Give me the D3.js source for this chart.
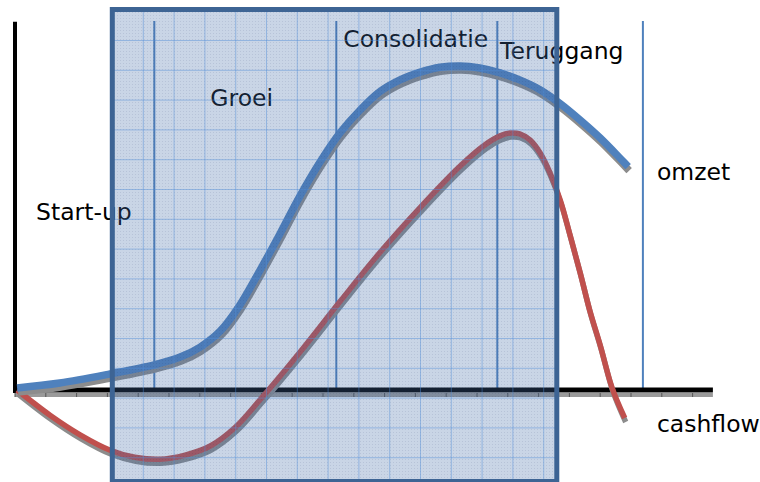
<!DOCTYPE html>
<html><head><meta charset="utf-8">
<script src="https://cdn.jsdelivr.net/npm/d3@7"></script>
<style>html,body{margin:0;padding:0;background:#fff;}svg{display:block;}</style>
</head><body>
<script>
// ---- data (time units on x, value units on y) ----
const omzetX = [0.3, 6.4, 13.6, 19.9, 23.6, 26.4, 29.3, 32.1, 35.0, 37.9, 40.7, 43.6, 46.4, 49.3, 52.1, 55.0, 57.9, 60.7, 63.6, 66.4, 69.3, 72.1, 75.0, 77.9, 80.7, 83.6, 87.6];
const omzetY = [0.3, 1.0, 2.3, 3.6, 4.7, 6.1, 8.4, 12.1, 17.1, 22.4, 27.7, 32.6, 36.7, 40.0, 42.6, 44.3, 45.4, 46.1, 46.3, 46.0, 45.3, 44.3, 42.9, 40.9, 38.6, 36.0, 31.9];
const cashX = [0.3, 5.0, 9.3, 13.6, 17.1, 20.7, 24.3, 27.9, 31.4, 35.0, 40.7, 46.4, 52.1, 57.9, 63.6, 67.1, 69.3, 70.7, 72.1, 73.6, 75.0, 76.4, 77.9, 79.3, 80.7, 82.1, 83.6, 85.3, 87.1];
const cashY = [0, -3.6, -6.4, -8.6, -9.6, -9.9, -9.3, -8.0, -5.4, -1.4, 5.4, 12.6, 19.6, 26.1, 32.0, 35.0, 36.3, 36.7, 36.6, 35.7, 33.9, 31.1, 27.1, 22.1, 16.9, 11.4, 6.4, 0.3, -4.0];
const phaseBounds = [19.9, 45.9, 68.9, 89.7];   // vertical phase lines
const phaseBox = [13.9, 77.4];                   // highlighted range
const phaseLabels = ["Start-up", "Groei", "Consolidatie", "Teruggang"];
const phaseLabelPos = [[3, 24.3], [27.9, 40.6], [46.9, 49.0], [69.3, 47.3]];
const seriesLabels = ["omzet", "cashflow"];
const seriesLabelPos = [[91.7, 30.0], [91.7, -6]];

const W = 760, H = 482;
const x = d3.scaleLinear().domain([0, 100]).range([15, 715]);
const y = d3.scaleLinear().domain([0, 50]).range([390, 40]);

const svg = d3.select("body").append("svg").attr("width", W).attr("height", H);
const defs = svg.append("defs");
const pat = defs.append("pattern").attr("id", "dots").attr("width", 3).attr("height", 3)
  .attr("patternUnits", "userSpaceOnUse");
pat.append("rect").attr("width", 1).attr("height", 1).attr("fill", "rgba(20,40,90,0.10)");

const font = "'DejaVu Sans', Verdana, sans-serif";
const fs = 23.5;

// phase labels & series labels (under the overlay)
phaseLabels.forEach((t, i) => {
  svg.append("text").attr("x", x(phaseLabelPos[i][0])).attr("y", y(phaseLabelPos[i][1]))
    .attr("font-family", font).attr("font-size", fs).attr("fill", "#000").text(t);
});
seriesLabels.forEach((t, i) => {
  svg.append("text").attr("x", x(seriesLabelPos[i][0])).attr("y", y(seriesLabelPos[i][1]))
    .attr("font-family", font).attr("font-size", fs).attr("fill", "#000").text(t);
});

// phase lines
svg.selectAll("line.phase").data(phaseBounds).join("line").attr("class", "phase")
  .attr("x1", d => x(d)).attr("x2", d => x(d))
  .attr("y1", y(52.7)).attr("y2", y(0))
  .attr("stroke", "#4f81bd").attr("stroke-width", 2);

// axes
svg.append("line").attr("x1", x(0)).attr("x2", x(99.7)).attr("y1", y(0) + 5).attr("y2", y(0) + 5)
  .attr("stroke", "#9a9a9a").attr("stroke-width", 4);
const tickXs = d3.range(0, 100, 4.4);
svg.selectAll("line.tk").data(tickXs).join("line").attr("class", "tk")
  .attr("x1", d => x(d)).attr("x2", d => x(d)).attr("y1", y(0) + 3).attr("y2", y(0) + 7)
  .attr("stroke", "#555").attr("stroke-width", 1);
svg.append("line").attr("x1", x(0)).attr("x2", x(0)).attr("y1", y(52.6)).attr("y2", y(0) + 3)
  .attr("stroke", "#000").attr("stroke-width", 4);
svg.append("line").attr("x1", x(0) - 2).attr("x2", x(99.7)).attr("y1", y(0)).attr("y2", y(0))
  .attr("stroke", "#000").attr("stroke-width", 5);

const line = d3.line().x(d => x(d[0])).y(d => y(d[1])).curve(d3.curveCatmullRom.alpha(0.5));
const omzet = omzetX.map((v, i) => [v, omzetY[i]]);
const cash = cashX.map((v, i) => [v, cashY[i]]);

function drawCurve(data, color, w) {
  svg.append("path").attr("d", line(data)).attr("fill", "none")
    .attr("stroke", "#8c8c8c").attr("stroke-width", w).attr("transform", "translate(1,4)");
  svg.append("path").attr("d", line(data)).attr("fill", "none")
    .attr("stroke", color).attr("stroke-width", w);
}
drawCurve(cash, "#c0504d", 5.5);
drawCurve(omzet, "#4f81bd", 7.5);

// highlighted overlay box
const bx0 = x(phaseBox[0]), bx1 = x(phaseBox[1]);
const by0 = 9.5, by1 = 481.5;
const g = svg.append("g");
g.append("rect").attr("x", bx0).attr("y", by0).attr("width", bx1 - bx0).attr("height", by1 - by0)
  .attr("fill", "rgba(70,110,170,0.29)");
g.append("rect").attr("x", bx0).attr("y", by0).attr("width", bx1 - bx0).attr("height", by1 - by0)
  .attr("fill", "url(#dots)");
const gx = d3.range(bx0 + 31, bx1, 30.8);
const gy = d3.range(by0 + 31, by1, 29.8);
g.selectAll("line.gv").data(gx).join("line").attr("class", "gv")
  .attr("x1", d => d).attr("x2", d => d).attr("y1", by0).attr("y2", by1)
  .attr("stroke", "rgba(80,140,215,0.45)").attr("stroke-width", 1);
g.selectAll("line.gh").data(gy).join("line").attr("class", "gh")
  .attr("x1", bx0).attr("x2", bx1).attr("y1", d => d).attr("y2", d => d)
  .attr("stroke", "rgba(80,140,215,0.45)").attr("stroke-width", 1);
g.append("rect").attr("x", bx0).attr("y", by0).attr("width", bx1 - bx0).attr("height", by1 - by0)
  .attr("fill", "none").attr("stroke", "#3d6494").attr("stroke-width", 5);
</script>
</body></html>
